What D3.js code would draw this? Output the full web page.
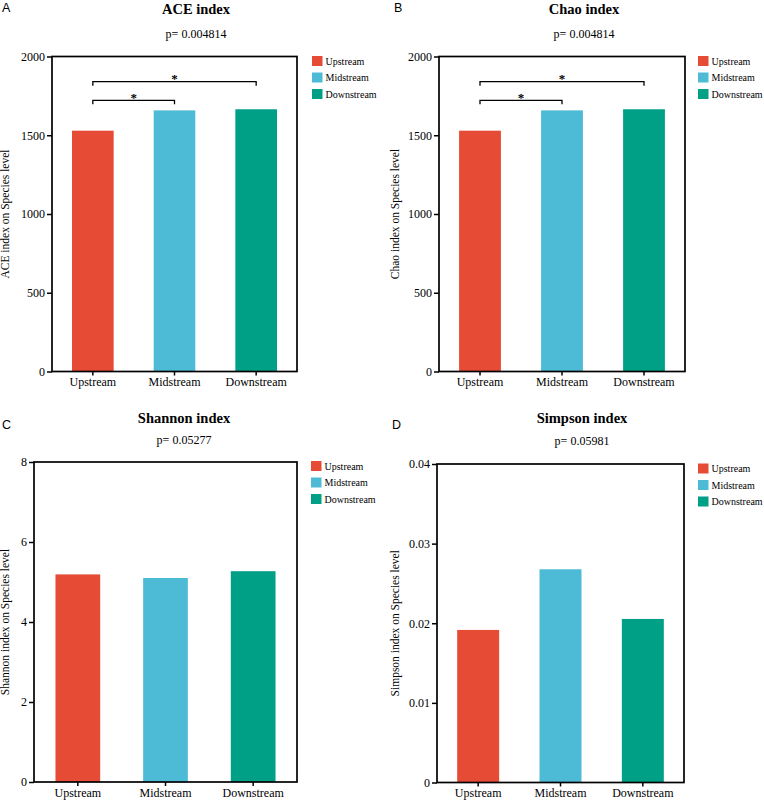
<!DOCTYPE html>
<html>
<head>
<meta charset="utf-8">
<script src="https://cdn.jsdelivr.net/npm/d3@7"></script>
<style>
  html, body { margin: 0; padding: 0; background: #fff; }
  svg { display: block; }
  text { font-family: "Liberation Serif", "Times New Roman", serif; fill: #000; }
  .letter { font-family: "Liberation Sans", Arial, sans-serif; }
</style>
</head>
<body>
<svg id="chart" width="764" height="802"></svg>
<script>
// ---- data ----
const groups = ["Upstream", "Midstream", "Downstream"];
const groupColors = ["#E64B35", "#4DBBD5", "#00A087"];

const aceValues = [1529, 1658, 1665];
const chaoValues = [1529, 1658, 1665];
const shannonValues = [5.19, 5.10, 5.27];
const simpsonValues = [0.01916, 0.02678, 0.02054];

const aceTicks = [0, 500, 1000, 1500, 2000];
const chaoTicks = [0, 500, 1000, 1500, 2000];
const shannonTicks = [0, 2, 4, 6, 8];
const simpsonTicks = [0, 0.01, 0.02, 0.03, 0.04];

const panelLetters = ["A", "B", "C", "D"];
const panelTitles = ["ACE index", "Chao index", "Shannon index", "Simpson index"];
const pTexts = ["p= 0.004814", "p= 0.004814", "p= 0.05277", "p= 0.05981"];
const yTitles = ["ACE index on Species level", "Chao index on Species level",
                 "Shannon index on Species level", "Simpson index on Species level"];

// significance comparisons: [fromGroup, toGroup, label, bracket level (data units)]
const aceSig = [["Upstream", "Midstream", "*", 1722], ["Upstream", "Downstream", "*", 1840]];
const chaoSig = [["Upstream", "Midstream", "*", 1722], ["Upstream", "Downstream", "*", 1840]];

// ---- drawing ----
const svg = d3.select("#chart");
const SERIF = "'Liberation Serif', 'Times New Roman', serif";

function drawPanel(o) {
  const g = svg.append("g");
  const x = d3.scaleBand().domain(groups).range([o.x0, o.x1]).paddingInner(0.49).paddingOuter(0.245);
  const y = d3.scaleLinear().domain([o.ticks[0], o.ticks[o.ticks.length - 1]]).range([o.y0, o.y1]);

  // letter, title, p
  g.append("text").attr("class", "letter").attr("x", o.lx).attr("y", o.ly)
    .style("font-size", "12.5px").text(o.letter);
  g.append("text").attr("x", o.tx).attr("y", o.ty).attr("text-anchor", "middle")
    .style("font-size", "14.5px").style("font-weight", "bold").text(o.title);
  g.append("text").attr("x", o.tx).attr("y", o.py).attr("text-anchor", "middle")
    .style("font-size", "12px").text(o.p);

  // bars
  g.selectAll("rect.bar").data(o.values).join("rect")
    .attr("class", "bar")
    .attr("x", (d, i) => x(groups[i]))
    .attr("width", x.bandwidth())
    .attr("y", d => y(d))
    .attr("height", d => y(0) - y(d))
    .attr("fill", (d, i) => groupColors[i]);

  // y axis
  const ya = g.append("g").attr("transform", `translate(${o.x0},0)`)
    .call(d3.axisLeft(y).tickValues(o.ticks).tickSize(5).tickSizeOuter(0).tickPadding(2)
      .tickFormat(o.fmt));
  ya.attr("font-family", null).attr("font-size", null);
  ya.select(".domain").remove();
  ya.selectAll("line").attr("stroke", "#000").attr("stroke-width", 1.5);
  ya.selectAll("text").attr("fill", "#000").style("font-size", "12px").style("font-family", SERIF);

  // x axis
  const xa = g.append("g").attr("transform", `translate(0,${o.y0})`)
    .call(d3.axisBottom(x).tickSize(4).tickSizeOuter(0).tickPadding(2));
  xa.attr("font-family", null).attr("font-size", null);
  xa.select(".domain").remove();
  xa.selectAll("line").attr("stroke", "#000").attr("stroke-width", 1.5);
  xa.selectAll("text").attr("fill", "#000").style("font-size", "12px").style("font-family", SERIF);

  // frame
  g.append("rect").attr("x", o.x0).attr("y", o.y1)
    .attr("width", o.x1 - o.x0).attr("height", o.y0 - o.y1)
    .attr("fill", "none").attr("stroke", "#000").attr("stroke-width", 1.7);

  // y title
  g.append("text")
    .attr("transform", `translate(${o.ytx},${(o.y0 + o.y1) / 2}) rotate(-90)`)
    .attr("text-anchor", "middle").style("font-size", "11.5px").text(o.yTitle);

  // legend
  groups.forEach((gname, i) => {
    const ly = o.legY + i * 16.5;
    g.append("rect").attr("x", o.legX).attr("y", ly).attr("width", 10.5).attr("height", 10)
      .attr("fill", groupColors[i]);
    g.append("text").attr("x", o.legX + 13.5).attr("y", ly + 8.7)
      .style("font-size", "10px").text(gname);
  });

  // significance brackets
  (o.sig || []).forEach(s => {
    const xa1 = x(s[0]) + x.bandwidth() / 2;
    const xa2 = x(s[1]) + x.bandwidth() / 2;
    const yy = y(s[3]);
    g.append("path")
      .attr("d", `M${xa1},${yy + 4}V${yy}H${xa2}V${yy + 4}`)
      .attr("fill", "none").attr("stroke", "#000").attr("stroke-width", 1.3);
    g.append("text").attr("x", (xa1 + xa2) / 2).attr("y", yy + 1.5)
      .attr("text-anchor", "middle").style("font-size", "13px").style("font-weight", "bold").text(s[2]);
  });
}

const fmtInt = d3.format("d");
const fmtSimpson = d => d === 0 ? "0" : d3.format(".2f")(d);

drawPanel({ letter: panelLetters[0], lx: 2, ly: 12, title: panelTitles[0], tx: 196, ty: 13.5,
  p: pTexts[0], py: 37.5, x0: 52, x1: 297, y0: 371.5, y1: 56.5, values: aceValues, ticks: aceTicks,
  fmt: fmtInt, yTitle: yTitles[0], ytx: 9, legX: 312, legY: 56, sig: aceSig });

drawPanel({ letter: panelLetters[1], lx: 394, ly: 12, title: panelTitles[1], tx: 584, ty: 13.5,
  p: pTexts[1], py: 37.5, x0: 439, x1: 685, y0: 371.5, y1: 56.5, values: chaoValues, ticks: chaoTicks,
  fmt: fmtInt, yTitle: yTitles[1], ytx: 399, legX: 698, legY: 56, sig: chaoSig });

drawPanel({ letter: panelLetters[2], lx: 2, ly: 429, title: panelTitles[2], tx: 184, ty: 423,
  p: pTexts[2], py: 444, x0: 34, x1: 297, y0: 782, y1: 462, values: shannonValues, ticks: shannonTicks,
  fmt: fmtInt, yTitle: yTitles[2], ytx: 9, legX: 311, legY: 461, sig: [] });

drawPanel({ letter: panelLetters[3], lx: 392, ly: 429, title: panelTitles[3], tx: 582, ty: 423,
  p: pTexts[3], py: 445, x0: 437, x1: 684, y0: 782.5, y1: 464, values: simpsonValues, ticks: simpsonTicks,
  fmt: fmtSimpson, yTitle: yTitles[3], ytx: 399, legX: 698, legY: 463.5, sig: [] });
</script>
</body>
</html>
